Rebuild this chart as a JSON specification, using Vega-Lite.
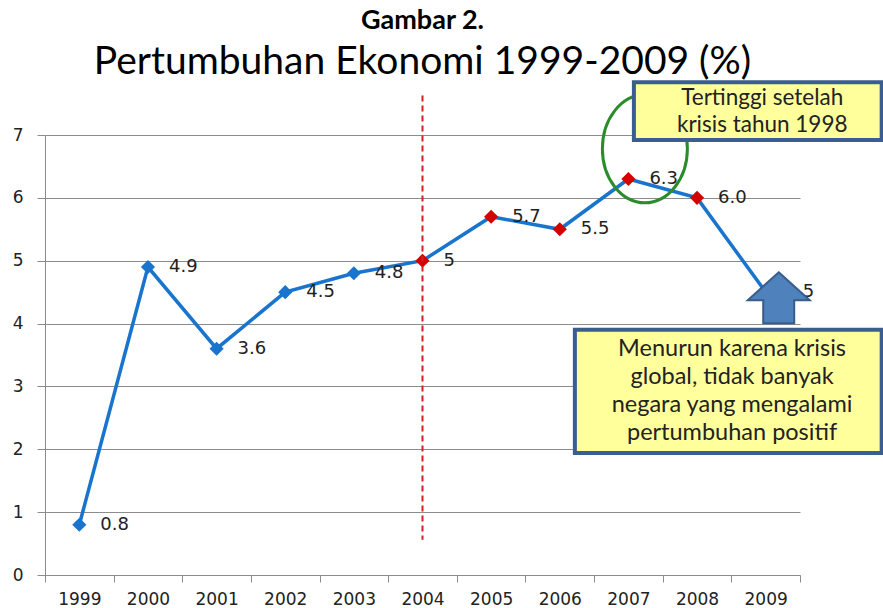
{
  "$schema": "https://vega.github.io/schema/vega-lite/v6.json",
  "width": 755,
  "height": 440,
  "autosize": {"type": "none"},
  "padding": {"left": 45, "top": 135, "right": 83, "bottom": 33},
  "background": "white",
  "config": {
    "view": {"stroke": null},
    "font": "Lato"
  },
  "title": {
    "text": "Gambar 2.",
    "subtitle": "Pertumbuhan Ekonomi 1999-2009 (%)",
    "anchor": "middle",
    "font": "Lato",
    "fontSize": 27,
    "fontWeight": "bold",
    "color": "#000000",
    "subtitleFont": "Lato",
    "subtitleFontSize": 39,
    "subtitleColor": "#000000",
    "subtitlePadding": 8,
    "offset": -3
  },
  "datasets": {
    "growth": [
      {"year": "1999", "value": 0.8, "label": "0.8", "phase": "before"},
      {"year": "2000", "value": 4.9, "label": "4.9", "phase": "before"},
      {"year": "2001", "value": 3.6, "label": "3.6", "phase": "before"},
      {"year": "2002", "value": 4.5, "label": "4.5", "phase": "before"},
      {"year": "2003", "value": 4.8, "label": "4.8", "phase": "before"},
      {"year": "2004", "value": 5.0, "label": "5", "phase": "after"},
      {"year": "2005", "value": 5.7, "label": "5.7", "phase": "after"},
      {"year": "2006", "value": 5.5, "label": "5.5", "phase": "after"},
      {"year": "2007", "value": 6.3, "label": "6.3", "phase": "after"},
      {"year": "2008", "value": 6.0, "label": "6.0", "phase": "after"},
      {"year": "2009", "value": 4.5, "label": "5", "phase": "after"}
    ],
    "divider": [{"year": "2004", "top": 7.63, "bottom": 0.56}],
    "ellipse": [{"x": 2007.24, "y": 6.78}],
    "boxes": [
      {"x": 2007.08, "x2": 2010.69, "y": 7.84, "y2": 6.92},
      {"x": 2006.22, "x2": 2010.69, "y": 3.9, "y2": 1.94}
    ],
    "boxtext1": [
      {"x": 2008.95, "y": 7.59, "text": "Tertinggi setelah"},
      {"x": 2008.95, "y": 7.16, "text": "krisis tahun 1998"}
    ],
    "boxtext2": [
      {"x": 2008.51, "y": 3.6, "text": "Menurun karena krisis"},
      {"x": 2008.51, "y": 3.15, "text": "global, tidak banyak"},
      {"x": 2008.51, "y": 2.705, "text": "negara yang mengalami"},
      {"x": 2008.51, "y": 2.26, "text": "pertumbuhan positif"}
    ],
    "arrow": [{"x": 2009.19, "y": 4.41}]
  },
  "layer": [
    {
      "encoding": {
        "x": {
          "field": "year",
          "type": "ordinal",
          "title": null,
          "scale": {
            "type": "band",
            "paddingInner": 0,
            "paddingOuter": 0,
            "domain": ["1999", "2000", "2001", "2002", "2003", "2004", "2005", "2006", "2007", "2008", "2009"]
          },
          "axis": {
            "tickBand": "extent",
            "labelAngle": 0,
            "grid": false,
            "domainColor": "#8c8c8c",
            "tickColor": "#8c8c8c",
            "tickSize": 7,
            "labelFont": "DejaVu Sans",
            "labelFontSize": 17,
            "labelColor": "#222222",
            "labelPadding": 9,
            "title": null
          }
        }
      },
      "layer": [
        {
          "data": {"name": "growth"},
          "mark": {"type": "line", "color": "#1874cd", "strokeWidth": 3.5},
          "encoding": {
            "y": {
              "field": "value",
              "type": "quantitative",
              "title": null,
              "scale": {"domain": [0, 7], "nice": false, "zero": true},
              "axis": {
                "values": [0, 1, 2, 3, 4, 5, 6, 7],
                "format": "d",
                "grid": true,
                "gridColor": "#8c8c8c",
                "gridOpacity": 1,
                "domainColor": "#8c8c8c",
                "tickColor": "#8c8c8c",
                "tickSize": 8,
                "labelFont": "DejaVu Sans",
                "labelFontSize": 17,
                "labelPadding": 14,
                "labelColor": "#222222",
                "title": null
              }
            }
          }
        },
        {
          "data": {"name": "growth"},
          "mark": {"type": "point", "shape": "diamond", "filled": true, "size": 200, "opacity": 1},
          "encoding": {
            "y": {"field": "value", "type": "quantitative", "title": null},
            "color": {
              "field": "phase",
              "type": "nominal",
              "scale": {"domain": ["before", "after"], "range": ["#1874cd", "#d40000"]},
              "legend": null
            }
          }
        },
        {
          "data": {"name": "growth"},
          "transform": [{"filter": "datum.year != '2009'"}],
          "mark": {"type": "text", "align": "left", "baseline": "middle", "dx": 21, "font": "DejaVu Sans", "fontSize": 18, "color": "#222222"},
          "encoding": {
            "y": {"field": "value", "type": "quantitative", "title": null},
            "text": {"field": "label"}
          }
        },
        {
          "data": {"name": "growth"},
          "transform": [{"filter": "datum.year == '2009'"}],
          "mark": {"type": "text", "align": "left", "baseline": "middle", "dx": 37, "font": "DejaVu Sans", "fontSize": 18, "color": "#222222"},
          "encoding": {
            "y": {"field": "value", "type": "quantitative", "title": null},
            "text": {"field": "label"}
          }
        },
        {
          "data": {"name": "divider"},
          "mark": {"type": "rule", "color": "#d42020", "strokeWidth": 2, "strokeDash": [6, 4]},
          "encoding": {
            "y": {"field": "top", "type": "quantitative", "title": null},
            "y2": {"field": "bottom"}
          }
        }
      ]
    },
    {
      "encoding": {
        "x": {
          "field": "x",
          "type": "quantitative",
          "title": null,
          "axis": null,
          "scale": {"domain": [1998.5, 2009.5], "nice": false, "zero": false}
        }
      },
      "layer": [
        {
          "data": {"name": "ellipse"},
          "mark": {
            "type": "point",
            "shape": "M -0.787 0 A 0.787 1 0 1 0 0.787 0 A 0.787 1 0 1 0 -0.787 0 Z",
            "size": 11664,
            "filled": false,
            "stroke": "#2a8c2a",
            "strokeWidth": 3,
            "opacity": 1
          },
          "encoding": {
            "y": {"field": "y", "type": "quantitative", "title": null}
          }
        },
        {
          "data": {"name": "boxes"},
          "mark": {"type": "rect", "fill": "#ffff9c", "stroke": "#3c5d8f", "strokeWidth": 4},
          "encoding": {
            "x2": {"field": "x2"},
            "y": {"field": "y", "type": "quantitative", "title": null},
            "y2": {"field": "y2"}
          }
        },
        {
          "data": {"name": "boxtext1"},
          "mark": {"type": "text", "align": "center", "baseline": "middle", "font": "Lato", "fontSize": 22.5, "color": "#222222"},
          "encoding": {
            "y": {"field": "y", "type": "quantitative", "title": null},
            "text": {"field": "text"}
          }
        },
        {
          "data": {"name": "boxtext2"},
          "mark": {"type": "text", "align": "center", "baseline": "middle", "font": "Lato", "fontSize": 23.5, "color": "#222222"},
          "encoding": {
            "y": {"field": "y", "type": "quantitative", "title": null},
            "text": {"field": "text"}
          }
        },
        {
          "data": {"name": "arrow"},
          "mark": {
            "type": "point",
            "shape": "M 0 -0.823 L 1 0.081 L 0.5 0.081 L 0.5 0.823 L -0.5 0.823 L -0.5 0.081 L -1 0.081 Z",
            "size": 3844,
            "filled": true,
            "fill": "#4f81bd",
            "stroke": "#385d8a",
            "strokeWidth": 2,
            "opacity": 1
          },
          "encoding": {
            "y": {"field": "y", "type": "quantitative", "title": null}
          }
        }
      ]
    }
  ],
  "resolve": {"scale": {"x": "independent"}}
}
